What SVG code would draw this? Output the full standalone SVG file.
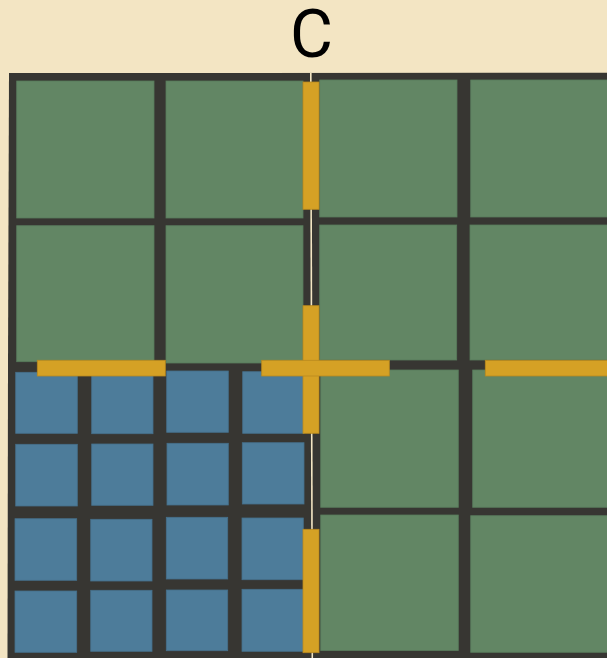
<svg xmlns="http://www.w3.org/2000/svg" width="607" height="658" viewBox="0 0 607 658">
  <style>
    .g { fill: #628664; stroke: #587a5b; stroke-width: 0.8; }
    .b { fill: #4d7c9a; stroke: #456f8a; stroke-width: 0.8; }
    .o { fill: #d5a125; stroke: #b8891e; stroke-width: 0.8; }
    .lbl { font-family: Roboto, "Liberation Sans", sans-serif; font-size: 66px; fill: #000; }
  </style>
  <rect x="0" y="0" width="607" height="658" fill="#f3e5c3"/>
  <text class="lbl" x="311.5" y="56.5" text-anchor="middle">C</text>
  <g id="grid-frame">
    <polygon points="9,73 607,72.7 607,658 7.5,658 8,365" fill="#373632"/>
  </g>
  <g id="big-cells">
    <rect id="r1c1" class="g" x="16.7" y="81" width="137.3" height="137"/>
    <rect id="r1c2" class="g" x="166" y="81" width="137" height="137"/>
    <rect id="r1c3" class="g" x="319.7" y="80" width="137.3" height="137"/>
    <rect id="r1c4" class="g" x="470.7" y="80" width="140" height="137"/>
    <rect id="r2c1" class="g" x="16.7" y="225.7" width="137.3" height="136"/>
    <rect id="r2c2" class="g" x="166" y="225.7" width="137" height="137.3"/>
    <rect id="r2c3" class="g" x="319.7" y="225" width="137" height="135"/>
    <rect id="r2c4" class="g" x="470" y="225" width="140" height="135"/>
    <rect id="r3c3" class="g" x="320.7" y="370" width="137.6" height="137.3"/>
    <rect id="r3c4" class="g" x="472.7" y="370" width="140" height="137.3"/>
    <rect id="r4c3" class="g" x="320.7" y="515" width="137.6" height="135.5"/>
    <rect id="r4c4" class="g" x="470.7" y="515.7" width="140" height="136.6"/>
  </g>
  <g id="small-cells">
    <rect class="b" x="15.7" y="372.3" width="61.6" height="61"/>
    <rect class="b" x="91.7" y="375" width="61.3" height="58.7"/>
    <rect class="b" x="166.7" y="371" width="61.6" height="61.3"/>
    <rect class="b" x="242.7" y="371.7" width="61.3" height="61.6"/>
    <rect class="b" x="15.7" y="444.3" width="61.6" height="61.7"/>
    <rect class="b" x="91.7" y="444" width="61.3" height="61.3"/>
    <rect class="b" x="167" y="443.3" width="61.3" height="61.7"/>
    <rect class="b" x="242.3" y="442.7" width="61.7" height="61.3"/>
    <rect class="b" x="15" y="518.7" width="61.7" height="61.6"/>
    <rect class="b" x="90.7" y="519.3" width="61.3" height="61.7"/>
    <rect class="b" x="166.3" y="517.3" width="61.4" height="61.7"/>
    <rect class="b" x="242" y="518" width="61.3" height="61.7"/>
    <rect class="b" x="15" y="591" width="61.7" height="61.3"/>
    <rect class="b" x="90.7" y="590.3" width="61.3" height="61"/>
    <rect class="b" x="166.3" y="590" width="61.4" height="60.7"/>
    <rect class="b" x="242" y="589.3" width="62" height="62"/>
  </g>
  <g id="connectors">
    <line x1="310.8" y1="73" x2="312.3" y2="658" stroke="#f3e5c3" stroke-width="1.6"/>
  </g>
  <g id="boundaries">
    <rect class="o" x="303" y="82" width="16" height="127.3"/>
    <rect class="o" x="303" y="305.7" width="16" height="127.6"/>
    <rect class="o" x="303" y="529.3" width="16" height="123.4"/>
    <rect class="o" x="37.3" y="360.3" width="128" height="15.7"/>
    <rect class="o" x="261.7" y="360.3" width="127.6" height="15.7"/>
    <rect class="o" x="485.3" y="360.3" width="125" height="15.7"/>
  </g>
</svg>
